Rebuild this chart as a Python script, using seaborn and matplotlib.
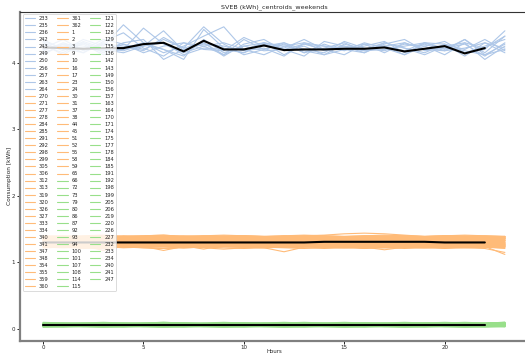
import matplotlib
matplotlib.use("Agg")
import matplotlib.pyplot as plt
import seaborn as sns
import numpy as np

sns.set_style("ticks")
plt.rcParams['font.family'] = ['DejaVu Sans']

hours = list(range(24))
centroid_hours = list(range(23))

title = "SVEB (kWh)_centroids_weekends"
x_label = "Hours"
y_label = "Consumption [kWh]"

# ---- cluster 0 (high consumption) ----
ids_c0 = [233, 235, 236, 242, 243, 249, 250, 256, 257, 263, 264]
profiles_c0 = [
    [4.20, 4.28, 4.15, 4.32, 4.45, 4.22, 4.10, 4.30, 4.25, 4.12, 4.35, 4.20, 4.28, 4.15, 4.22, 4.30, 4.18, 4.25, 4.12, 4.30, 4.20, 4.35, 4.15, 4.40],
    [4.30, 4.18, 4.35, 4.25, 4.57, 4.30, 4.20, 4.05, 4.50, 4.22, 4.15, 4.28, 4.20, 4.10, 4.32, 4.25, 4.20, 4.30, 4.22, 4.15, 4.28, 4.10, 4.30, 4.22],
    [4.15, 4.25, 4.22, 4.18, 4.20, 4.52, 4.28, 4.15, 4.25, 4.30, 4.20, 4.12, 4.25, 4.30, 4.18, 4.22, 4.28, 4.15, 4.30, 4.20, 4.25, 4.18, 4.12, 4.28],
    [4.28, 4.12, 4.30, 4.20, 4.15, 4.25, 4.48, 4.18, 4.30, 4.10, 4.28, 4.35, 4.18, 4.25, 4.12, 4.20, 4.25, 4.32, 4.15, 4.28, 4.18, 4.22, 4.30, 4.15],
    [4.22, 4.35, 4.18, 4.28, 4.25, 4.18, 4.38, 4.22, 4.54, 4.28, 4.12, 4.20, 4.30, 4.15, 4.28, 4.18, 4.30, 4.22, 4.12, 4.25, 4.32, 4.15, 4.25, 4.35],
    [4.35, 4.20, 4.28, 4.12, 4.22, 4.30, 4.15, 4.25, 4.40, 4.54, 4.20, 4.30, 4.12, 4.28, 4.20, 4.25, 4.15, 4.28, 4.35, 4.18, 4.22, 4.28, 4.10, 4.30],
    [4.18, 4.30, 4.20, 4.35, 4.28, 4.15, 4.25, 4.30, 4.20, 4.18, 4.38, 4.25, 4.30, 4.20, 4.15, 4.32, 4.22, 4.18, 4.28, 4.25, 4.12, 4.30, 4.22, 4.40],
    [4.25, 4.15, 4.32, 4.22, 4.18, 4.28, 4.20, 4.10, 4.35, 4.15, 4.25, 4.30, 4.22, 4.35, 4.20, 4.12, 4.28, 4.25, 4.18, 4.30, 4.28, 4.20, 4.35, 4.18],
    [4.12, 4.28, 4.25, 4.18, 4.30, 4.35, 4.05, 4.20, 4.28, 4.25, 4.18, 4.22, 4.10, 4.30, 4.25, 4.20, 4.15, 4.30, 4.22, 4.12, 4.25, 4.30, 4.05, 4.25],
    [4.32, 4.22, 4.15, 4.30, 4.20, 4.25, 4.30, 4.12, 4.22, 4.20, 4.15, 4.30, 4.25, 4.18, 4.12, 4.28, 4.20, 4.25, 4.30, 4.20, 4.18, 4.35, 4.12, 4.20],
    [4.20, 4.25, 4.30, 4.15, 4.28, 4.20, 4.35, 4.22, 4.30, 4.12, 4.25, 4.18, 4.20, 4.28, 4.25, 4.22, 4.18, 4.20, 4.25, 4.30, 4.22, 4.15, 4.20, 4.48],
]
centroid_c0 = [4.23, 4.22, 4.21, 4.22, 4.22, 4.28, 4.30, 4.17, 4.33, 4.20, 4.20, 4.26,
               4.19, 4.20, 4.20, 4.21, 4.21, 4.23, 4.17, 4.21, 4.25, 4.14, 4.22]

# ---- cluster 1 (medium consumption) ----
ids_c1 = [270, 271, 277, 278, 284, 285, 291, 292, 298, 299, 305, 306, 312, 313, 319, 320,
          326, 327, 333, 334, 340, 341, 347, 348, 354, 355, 359, 360, 361, 362, 1, 2, 3, 9,
          10, 16, 17, 23, 24, 30, 31, 37, 38, 44, 45, 51, 52, 55, 58, 59, 65]
profiles_c1 = [
    [1.38, 1.37, 1.38, 1.39, 1.38, 1.37, 1.38, 1.39, 1.38, 1.38, 1.37, 1.38, 1.39, 1.38, 1.37, 1.38, 1.38, 1.39, 1.38, 1.37, 1.38, 1.38, 1.37, 1.38],
    [1.25, 1.24, 1.26, 1.25, 1.23, 1.25, 1.26, 1.24, 1.25, 1.26, 1.25, 1.24, 1.23, 1.25, 1.26, 1.25, 1.24, 1.25, 1.26, 1.25, 1.24, 1.25, 1.26, 1.24],
    [1.33, 1.34, 1.33, 1.32, 1.34, 1.35, 1.33, 1.32, 1.33, 1.34, 1.33, 1.35, 1.34, 1.33, 1.32, 1.34, 1.33, 1.34, 1.35, 1.33, 1.32, 1.33, 1.34, 1.33],
    [1.28, 1.27, 1.29, 1.28, 1.26, 1.28, 1.29, 1.27, 1.28, 1.30, 1.28, 1.27, 1.29, 1.28, 1.27, 1.29, 1.28, 1.27, 1.28, 1.29, 1.28, 1.27, 1.28, 1.29],
    [1.39, 1.40, 1.39, 1.38, 1.39, 1.40, 1.41, 1.39, 1.38, 1.39, 1.40, 1.39, 1.38, 1.40, 1.41, 1.43, 1.44, 1.43, 1.41, 1.39, 1.40, 1.39, 1.38, 1.39],
    [1.22, 1.23, 1.21, 1.22, 1.24, 1.22, 1.21, 1.23, 1.22, 1.20, 1.22, 1.23, 1.22, 1.21, 1.23, 1.22, 1.21, 1.22, 1.23, 1.22, 1.21, 1.22, 1.23, 1.21],
    [1.36, 1.35, 1.36, 1.37, 1.35, 1.36, 1.35, 1.37, 1.36, 1.35, 1.36, 1.37, 1.36, 1.35, 1.36, 1.36, 1.37, 1.35, 1.36, 1.37, 1.36, 1.35, 1.36, 1.37],
    [1.30, 1.31, 1.29, 1.30, 1.31, 1.30, 1.29, 1.31, 1.30, 1.31, 1.30, 1.29, 1.30, 1.31, 1.30, 1.29, 1.30, 1.31, 1.30, 1.29, 1.30, 1.31, 1.30, 1.30],
    [1.26, 1.27, 1.25, 1.18, 1.26, 1.27, 1.26, 1.25, 1.27, 1.26, 1.25, 1.26, 1.27, 1.26, 1.25, 1.24, 1.26, 1.27, 1.26, 1.25, 1.26, 1.27, 1.25, 1.26],
    [1.37, 1.38, 1.37, 1.36, 1.38, 1.37, 1.38, 1.36, 1.37, 1.38, 1.37, 1.36, 1.38, 1.37, 1.38, 1.37, 1.36, 1.37, 1.38, 1.37, 1.36, 1.38, 1.37, 1.36],
    [1.24, 1.25, 1.24, 1.23, 1.25, 1.24, 1.18, 1.24, 1.25, 1.24, 1.23, 1.24, 1.25, 1.24, 1.23, 1.24, 1.25, 1.24, 1.23, 1.24, 1.25, 1.24, 1.23, 1.24],
    [1.34, 1.33, 1.35, 1.34, 1.33, 1.34, 1.35, 1.34, 1.33, 1.34, 1.35, 1.36, 1.34, 1.33, 1.34, 1.35, 1.34, 1.33, 1.34, 1.35, 1.34, 1.33, 1.34, 1.35],
    [1.29, 1.28, 1.29, 1.30, 1.28, 1.29, 1.28, 1.30, 1.29, 1.28, 1.29, 1.30, 1.29, 1.28, 1.29, 1.30, 1.29, 1.28, 1.29, 1.30, 1.29, 1.28, 1.29, 1.28],
    [1.39, 1.38, 1.39, 1.40, 1.39, 1.38, 1.39, 1.40, 1.39, 1.38, 1.40, 1.39, 1.38, 1.39, 1.40, 1.39, 1.38, 1.39, 1.40, 1.39, 1.38, 1.39, 1.40, 1.39],
    [1.23, 1.24, 1.23, 1.22, 1.24, 1.23, 1.24, 1.22, 1.23, 1.24, 1.23, 1.22, 1.16, 1.23, 1.24, 1.23, 1.22, 1.23, 1.24, 1.23, 1.22, 1.23, 1.24, 1.12],
    [1.35, 1.36, 1.35, 1.34, 1.36, 1.35, 1.34, 1.36, 1.35, 1.36, 1.35, 1.34, 1.35, 1.36, 1.35, 1.34, 1.36, 1.35, 1.34, 1.35, 1.36, 1.35, 1.34, 1.35],
    [1.27, 1.28, 1.27, 1.26, 1.28, 1.27, 1.28, 1.26, 1.27, 1.28, 1.27, 1.26, 1.27, 1.28, 1.27, 1.26, 1.21, 1.27, 1.28, 1.27, 1.26, 1.27, 1.28, 1.27],
    [1.32, 1.31, 1.32, 1.33, 1.31, 1.32, 1.33, 1.32, 1.31, 1.32, 1.33, 1.32, 1.31, 1.32, 1.33, 1.32, 1.31, 1.32, 1.33, 1.32, 1.31, 1.32, 1.33, 1.32],
    [1.38, 1.39, 1.38, 1.37, 1.39, 1.38, 1.37, 1.38, 1.39, 1.38, 1.37, 1.38, 1.39, 1.38, 1.37, 1.38, 1.39, 1.38, 1.37, 1.38, 1.39, 1.38, 1.37, 1.38],
    [1.25, 1.26, 1.25, 1.24, 1.26, 1.25, 1.24, 1.25, 1.26, 1.25, 1.24, 1.25, 1.26, 1.25, 1.24, 1.25, 1.26, 1.25, 1.24, 1.25, 1.26, 1.25, 1.24, 1.25],
    [1.36, 1.37, 1.36, 1.35, 1.37, 1.36, 1.35, 1.36, 1.37, 1.36, 1.35, 1.36, 1.37, 1.36, 1.35, 1.36, 1.37, 1.36, 1.35, 1.36, 1.37, 1.36, 1.35, 1.36],
    [1.28, 1.29, 1.28, 1.27, 1.29, 1.28, 1.27, 1.28, 1.29, 1.28, 1.27, 1.28, 1.29, 1.28, 1.27, 1.28, 1.29, 1.28, 1.27, 1.28, 1.29, 1.28, 1.27, 1.28],
    [1.33, 1.32, 1.34, 1.33, 1.32, 1.33, 1.34, 1.33, 1.35, 1.33, 1.32, 1.33, 1.34, 1.33, 1.32, 1.33, 1.34, 1.33, 1.32, 1.33, 1.34, 1.33, 1.32, 1.33],
    [1.24, 1.23, 1.24, 1.25, 1.23, 1.24, 1.25, 1.23, 1.24, 1.25, 1.24, 1.23, 1.24, 1.25, 1.24, 1.23, 1.24, 1.25, 1.24, 1.23, 1.24, 1.25, 1.24, 1.23],
    [1.37, 1.36, 1.37, 1.38, 1.36, 1.37, 1.38, 1.36, 1.37, 1.38, 1.37, 1.36, 1.37, 1.38, 1.37, 1.36, 1.37, 1.38, 1.37, 1.36, 1.37, 1.38, 1.37, 1.36],
    [1.30, 1.29, 1.30, 1.31, 1.29, 1.30, 1.31, 1.29, 1.30, 1.31, 1.30, 1.29, 1.30, 1.31, 1.30, 1.29, 1.30, 1.31, 1.30, 1.29, 1.30, 1.31, 1.30, 1.29],
    [1.26, 1.25, 1.26, 1.27, 1.25, 1.26, 1.27, 1.25, 1.20, 1.26, 1.27, 1.25, 1.26, 1.27, 1.26, 1.25, 1.26, 1.27, 1.26, 1.25, 1.26, 1.27, 1.26, 1.25],
    [1.39, 1.38, 1.39, 1.38, 1.40, 1.39, 1.38, 1.39, 1.40, 1.39, 1.38, 1.39, 1.40, 1.39, 1.38, 1.39, 1.40, 1.39, 1.38, 1.39, 1.40, 1.39, 1.38, 1.39],
    [1.31, 1.32, 1.31, 1.30, 1.32, 1.31, 1.30, 1.31, 1.32, 1.31, 1.30, 1.31, 1.32, 1.31, 1.30, 1.31, 1.32, 1.31, 1.30, 1.31, 1.32, 1.31, 1.30, 1.31],
    [1.23, 1.22, 1.23, 1.24, 1.22, 1.23, 1.24, 1.22, 1.23, 1.24, 1.23, 1.22, 1.23, 1.24, 1.23, 1.22, 1.23, 1.19, 1.23, 1.22, 1.23, 1.24, 1.23, 1.22],
    [1.35, 1.34, 1.35, 1.36, 1.34, 1.35, 1.36, 1.34, 1.35, 1.36, 1.35, 1.34, 1.35, 1.36, 1.35, 1.34, 1.35, 1.36, 1.35, 1.34, 1.35, 1.36, 1.35, 1.34],
    [1.27, 1.26, 1.27, 1.28, 1.26, 1.27, 1.28, 1.26, 1.27, 1.28, 1.27, 1.26, 1.27, 1.28, 1.27, 1.26, 1.27, 1.28, 1.27, 1.26, 1.27, 1.28, 1.27, 1.26],
    [1.38, 1.37, 1.38, 1.39, 1.37, 1.38, 1.39, 1.37, 1.38, 1.39, 1.38, 1.37, 1.38, 1.39, 1.38, 1.37, 1.38, 1.39, 1.38, 1.37, 1.38, 1.39, 1.38, 1.37],
    [1.32, 1.33, 1.32, 1.31, 1.33, 1.32, 1.31, 1.32, 1.33, 1.32, 1.31, 1.32, 1.33, 1.32, 1.31, 1.32, 1.33, 1.32, 1.31, 1.32, 1.33, 1.32, 1.31, 1.32],
    [1.25, 1.26, 1.25, 1.24, 1.26, 1.25, 1.24, 1.25, 1.26, 1.25, 1.24, 1.25, 1.26, 1.25, 1.24, 1.25, 1.26, 1.25, 1.24, 1.25, 1.26, 1.25, 1.24, 1.25],
    [1.36, 1.37, 1.36, 1.35, 1.37, 1.36, 1.35, 1.36, 1.37, 1.36, 1.35, 1.36, 1.37, 1.36, 1.35, 1.36, 1.37, 1.36, 1.35, 1.36, 1.37, 1.36, 1.35, 1.36],
    [1.29, 1.30, 1.29, 1.28, 1.30, 1.29, 1.28, 1.29, 1.30, 1.29, 1.28, 1.29, 1.30, 1.29, 1.28, 1.29, 1.30, 1.29, 1.28, 1.29, 1.30, 1.29, 1.28, 1.29],
    [1.40, 1.39, 1.40, 1.41, 1.39, 1.40, 1.41, 1.39, 1.40, 1.41, 1.40, 1.39, 1.40, 1.41, 1.40, 1.39, 1.40, 1.41, 1.40, 1.39, 1.40, 1.41, 1.40, 1.39],
    [1.24, 1.25, 1.24, 1.23, 1.25, 1.24, 1.23, 1.24, 1.25, 1.24, 1.23, 1.24, 1.25, 1.24, 1.23, 1.24, 1.25, 1.24, 1.23, 1.24, 1.25, 1.24, 1.23, 1.24],
    [1.34, 1.33, 1.34, 1.35, 1.33, 1.34, 1.35, 1.33, 1.34, 1.35, 1.34, 1.33, 1.34, 1.35, 1.34, 1.33, 1.34, 1.35, 1.34, 1.33, 1.34, 1.35, 1.34, 1.33],
    [1.27, 1.28, 1.27, 1.26, 1.28, 1.27, 1.26, 1.27, 1.28, 1.27, 1.26, 1.27, 1.28, 1.27, 1.26, 1.27, 1.28, 1.27, 1.26, 1.27, 1.28, 1.27, 1.26, 1.27],
    [1.37, 1.38, 1.37, 1.36, 1.38, 1.37, 1.36, 1.37, 1.38, 1.37, 1.36, 1.37, 1.38, 1.37, 1.36, 1.37, 1.38, 1.37, 1.36, 1.37, 1.38, 1.37, 1.36, 1.37],
    [1.22, 1.23, 1.22, 1.21, 1.23, 1.22, 1.21, 1.22, 1.23, 1.22, 1.21, 1.22, 1.23, 1.22, 1.21, 1.22, 1.23, 1.22, 1.21, 1.22, 1.23, 1.22, 1.21, 1.15],
    [1.31, 1.30, 1.31, 1.32, 1.30, 1.31, 1.32, 1.30, 1.31, 1.32, 1.31, 1.30, 1.31, 1.32, 1.31, 1.30, 1.31, 1.32, 1.31, 1.30, 1.31, 1.32, 1.31, 1.30],
    [1.39, 1.38, 1.39, 1.40, 1.38, 1.39, 1.40, 1.38, 1.39, 1.40, 1.39, 1.38, 1.39, 1.40, 1.39, 1.38, 1.39, 1.40, 1.39, 1.38, 1.39, 1.40, 1.39, 1.38],
    [1.26, 1.27, 1.26, 1.25, 1.27, 1.26, 1.25, 1.26, 1.27, 1.26, 1.25, 1.26, 1.27, 1.26, 1.25, 1.26, 1.27, 1.26, 1.25, 1.26, 1.27, 1.26, 1.25, 1.26],
    [1.35, 1.36, 1.35, 1.34, 1.36, 1.35, 1.34, 1.35, 1.36, 1.35, 1.34, 1.35, 1.36, 1.35, 1.34, 1.35, 1.36, 1.35, 1.34, 1.35, 1.36, 1.35, 1.34, 1.35],
    [1.28, 1.27, 1.28, 1.29, 1.27, 1.28, 1.29, 1.27, 1.28, 1.29, 1.28, 1.27, 1.28, 1.29, 1.28, 1.27, 1.28, 1.29, 1.28, 1.27, 1.28, 1.29, 1.28, 1.27],
    [1.33, 1.34, 1.33, 1.32, 1.34, 1.33, 1.32, 1.33, 1.34, 1.33, 1.32, 1.33, 1.34, 1.33, 1.32, 1.33, 1.34, 1.33, 1.32, 1.33, 1.34, 1.33, 1.32, 1.33],
    [1.24, 1.23, 1.24, 1.25, 1.23, 1.24, 1.25, 1.23, 1.24, 1.25, 1.24, 1.23, 1.24, 1.25, 1.24, 1.23, 1.24, 1.25, 1.24, 1.23, 1.24, 1.25, 1.24, 1.23],
    [1.38, 1.39, 1.38, 1.37, 1.39, 1.38, 1.37, 1.38, 1.39, 1.38, 1.37, 1.38, 1.39, 1.38, 1.37, 1.38, 1.39, 1.38, 1.37, 1.38, 1.39, 1.38, 1.37, 1.38],
]
centroid_c1 = [1.30, 1.30, 1.30, 1.30, 1.30, 1.30, 1.30, 1.30, 1.30, 1.30, 1.30, 1.30,
               1.30, 1.30, 1.31, 1.31, 1.31, 1.31, 1.31, 1.31, 1.30, 1.30, 1.30]

# ---- cluster 2 (near-zero consumption) ----
ids_c2 = [66, 72, 73, 79, 80, 86, 87, 92, 93, 94, 100, 101, 107, 108, 114, 115,
          121, 122, 128, 129, 135, 136, 142, 143, 149, 150, 156, 157, 163, 164, 170, 171,
          174, 175, 177, 178, 184, 185, 191, 192, 198, 199, 205, 206, 219, 220, 226, 227,
          232, 233, 234, 240, 241, 247]
profiles_c2 = [
    [0.06, 0.05, 0.06, 0.07, 0.06, 0.05, 0.06, 0.07, 0.06, 0.05, 0.06, 0.07, 0.06, 0.05, 0.06, 0.07, 0.06, 0.05, 0.06, 0.07, 0.06, 0.05, 0.06, 0.07],
    [0.04, 0.04, 0.05, 0.04, 0.04, 0.05, 0.04, 0.04, 0.05, 0.04, 0.04, 0.05, 0.04, 0.04, 0.05, 0.04, 0.04, 0.05, 0.04, 0.04, 0.05, 0.04, 0.04, 0.05],
    [0.08, 0.07, 0.08, 0.08, 0.07, 0.08, 0.09, 0.08, 0.07, 0.08, 0.08, 0.09, 0.08, 0.07, 0.08, 0.08, 0.07, 0.08, 0.09, 0.08, 0.07, 0.08, 0.08, 0.09],
    [0.05, 0.06, 0.05, 0.05, 0.06, 0.05, 0.05, 0.06, 0.05, 0.05, 0.06, 0.05, 0.05, 0.06, 0.05, 0.05, 0.06, 0.05, 0.05, 0.06, 0.05, 0.05, 0.06, 0.05],
    [0.07, 0.07, 0.06, 0.07, 0.07, 0.06, 0.07, 0.07, 0.08, 0.07, 0.07, 0.06, 0.07, 0.07, 0.06, 0.07, 0.07, 0.08, 0.07, 0.07, 0.06, 0.07, 0.07, 0.08],
    [0.03, 0.04, 0.03, 0.03, 0.04, 0.03, 0.03, 0.04, 0.03, 0.03, 0.04, 0.03, 0.03, 0.04, 0.03, 0.03, 0.04, 0.03, 0.03, 0.04, 0.03, 0.03, 0.04, 0.03],
    [0.06, 0.06, 0.07, 0.06, 0.06, 0.07, 0.06, 0.06, 0.07, 0.06, 0.06, 0.07, 0.06, 0.06, 0.07, 0.06, 0.06, 0.07, 0.06, 0.06, 0.07, 0.06, 0.06, 0.07],
    [0.09, 0.08, 0.09, 0.09, 0.08, 0.09, 0.10, 0.09, 0.08, 0.09, 0.09, 0.08, 0.09, 0.10, 0.09, 0.08, 0.09, 0.09, 0.08, 0.09, 0.10, 0.09, 0.08, 0.10],
    [0.05, 0.05, 0.04, 0.05, 0.05, 0.04, 0.05, 0.05, 0.04, 0.05, 0.05, 0.04, 0.05, 0.05, 0.04, 0.05, 0.05, 0.04, 0.05, 0.05, 0.04, 0.05, 0.05, 0.04],
    [0.07, 0.06, 0.07, 0.07, 0.06, 0.07, 0.07, 0.06, 0.07, 0.07, 0.06, 0.07, 0.07, 0.06, 0.07, 0.07, 0.06, 0.07, 0.07, 0.06, 0.07, 0.07, 0.06, 0.07],
    [0.06, 0.07, 0.06, 0.05, 0.06, 0.07, 0.06, 0.05, 0.06, 0.07, 0.06, 0.05, 0.06, 0.07, 0.06, 0.05, 0.06, 0.07, 0.06, 0.05, 0.06, 0.07, 0.06, 0.05],
    [0.04, 0.05, 0.05, 0.04, 0.05, 0.05, 0.04, 0.05, 0.05, 0.04, 0.05, 0.05, 0.04, 0.05, 0.05, 0.04, 0.05, 0.05, 0.04, 0.05, 0.05, 0.04, 0.05, 0.06],
    [0.08, 0.08, 0.07, 0.08, 0.08, 0.07, 0.08, 0.08, 0.07, 0.08, 0.08, 0.07, 0.08, 0.08, 0.07, 0.08, 0.08, 0.07, 0.08, 0.08, 0.07, 0.08, 0.08, 0.09],
    [0.05, 0.06, 0.06, 0.05, 0.06, 0.06, 0.05, 0.06, 0.06, 0.05, 0.06, 0.06, 0.05, 0.06, 0.06, 0.05, 0.06, 0.06, 0.05, 0.06, 0.06, 0.05, 0.06, 0.06],
    [0.07, 0.08, 0.07, 0.07, 0.08, 0.07, 0.07, 0.08, 0.07, 0.07, 0.08, 0.07, 0.07, 0.08, 0.07, 0.07, 0.08, 0.07, 0.07, 0.08, 0.07, 0.07, 0.08, 0.07],
    [0.06, 0.06, 0.05, 0.06, 0.06, 0.05, 0.06, 0.06, 0.05, 0.06, 0.06, 0.05, 0.06, 0.06, 0.05, 0.06, 0.06, 0.05, 0.06, 0.06, 0.05, 0.06, 0.06, 0.05],
    [0.04, 0.04, 0.04, 0.05, 0.04, 0.04, 0.05, 0.04, 0.04, 0.05, 0.04, 0.04, 0.05, 0.04, 0.04, 0.05, 0.04, 0.04, 0.05, 0.04, 0.04, 0.05, 0.04, 0.04],
    [0.07, 0.06, 0.06, 0.07, 0.06, 0.06, 0.07, 0.06, 0.06, 0.07, 0.06, 0.06, 0.07, 0.06, 0.06, 0.07, 0.06, 0.06, 0.07, 0.06, 0.06, 0.07, 0.06, 0.07],
    [0.09, 0.09, 0.08, 0.09, 0.09, 0.08, 0.09, 0.09, 0.08, 0.09, 0.09, 0.08, 0.09, 0.09, 0.08, 0.09, 0.09, 0.08, 0.09, 0.09, 0.08, 0.09, 0.09, 0.10],
    [0.05, 0.05, 0.06, 0.05, 0.05, 0.06, 0.05, 0.05, 0.06, 0.05, 0.05, 0.06, 0.05, 0.05, 0.06, 0.05, 0.05, 0.06, 0.05, 0.05, 0.06, 0.05, 0.05, 0.06],
    [0.06, 0.07, 0.07, 0.06, 0.07, 0.07, 0.06, 0.07, 0.07, 0.06, 0.07, 0.07, 0.06, 0.07, 0.07, 0.06, 0.07, 0.07, 0.06, 0.07, 0.07, 0.06, 0.07, 0.07],
    [0.03, 0.03, 0.04, 0.03, 0.03, 0.04, 0.03, 0.03, 0.04, 0.03, 0.03, 0.04, 0.03, 0.03, 0.04, 0.03, 0.03, 0.04, 0.03, 0.03, 0.04, 0.03, 0.03, 0.04],
    [0.08, 0.07, 0.07, 0.08, 0.07, 0.07, 0.08, 0.07, 0.07, 0.08, 0.07, 0.07, 0.08, 0.07, 0.07, 0.08, 0.07, 0.07, 0.08, 0.07, 0.07, 0.08, 0.07, 0.08],
    [0.06, 0.05, 0.05, 0.06, 0.05, 0.05, 0.06, 0.05, 0.05, 0.06, 0.05, 0.05, 0.06, 0.05, 0.05, 0.06, 0.05, 0.05, 0.06, 0.05, 0.05, 0.06, 0.05, 0.05],
    [0.07, 0.07, 0.08, 0.07, 0.07, 0.08, 0.07, 0.07, 0.08, 0.07, 0.07, 0.08, 0.07, 0.07, 0.08, 0.07, 0.07, 0.08, 0.07, 0.07, 0.08, 0.07, 0.07, 0.08],
    [0.05, 0.04, 0.05, 0.05, 0.04, 0.05, 0.05, 0.04, 0.05, 0.05, 0.04, 0.05, 0.05, 0.04, 0.05, 0.05, 0.04, 0.05, 0.05, 0.04, 0.05, 0.05, 0.04, 0.05],
    [0.06, 0.06, 0.06, 0.07, 0.06, 0.06, 0.07, 0.06, 0.06, 0.07, 0.06, 0.06, 0.07, 0.06, 0.06, 0.07, 0.06, 0.06, 0.07, 0.06, 0.06, 0.07, 0.06, 0.06],
    [0.08, 0.09, 0.08, 0.08, 0.09, 0.08, 0.08, 0.09, 0.08, 0.08, 0.09, 0.08, 0.08, 0.09, 0.08, 0.08, 0.09, 0.08, 0.08, 0.09, 0.08, 0.08, 0.09, 0.09],
    [0.04, 0.05, 0.04, 0.04, 0.05, 0.04, 0.04, 0.05, 0.04, 0.04, 0.05, 0.04, 0.04, 0.05, 0.04, 0.04, 0.05, 0.04, 0.04, 0.05, 0.04, 0.04, 0.05, 0.04],
    [0.07, 0.06, 0.07, 0.06, 0.07, 0.06, 0.07, 0.06, 0.07, 0.06, 0.07, 0.06, 0.07, 0.06, 0.07, 0.06, 0.07, 0.06, 0.07, 0.06, 0.07, 0.06, 0.07, 0.06],
    [0.05, 0.06, 0.05, 0.06, 0.05, 0.06, 0.05, 0.06, 0.05, 0.06, 0.05, 0.06, 0.05, 0.06, 0.05, 0.06, 0.05, 0.06, 0.05, 0.06, 0.05, 0.06, 0.05, 0.06],
    [0.06, 0.06, 0.06, 0.06, 0.07, 0.06, 0.06, 0.06, 0.07, 0.06, 0.06, 0.06, 0.07, 0.06, 0.06, 0.06, 0.07, 0.06, 0.06, 0.06, 0.07, 0.06, 0.06, 0.07],
    [0.09, 0.08, 0.08, 0.09, 0.08, 0.08, 0.09, 0.08, 0.08, 0.09, 0.08, 0.08, 0.09, 0.08, 0.08, 0.09, 0.08, 0.08, 0.09, 0.08, 0.08, 0.09, 0.08, 0.09],
    [0.03, 0.04, 0.04, 0.03, 0.04, 0.04, 0.03, 0.04, 0.04, 0.03, 0.04, 0.04, 0.03, 0.04, 0.04, 0.03, 0.04, 0.04, 0.03, 0.04, 0.04, 0.03, 0.04, 0.04],
    [0.07, 0.07, 0.07, 0.06, 0.07, 0.07, 0.07, 0.06, 0.07, 0.07, 0.07, 0.06, 0.07, 0.07, 0.07, 0.06, 0.07, 0.07, 0.07, 0.06, 0.07, 0.07, 0.07, 0.07],
    [0.05, 0.05, 0.05, 0.06, 0.05, 0.05, 0.05, 0.06, 0.05, 0.05, 0.05, 0.06, 0.05, 0.05, 0.05, 0.06, 0.05, 0.05, 0.05, 0.06, 0.05, 0.05, 0.05, 0.06],
    [0.08, 0.08, 0.08, 0.07, 0.08, 0.08, 0.08, 0.07, 0.08, 0.08, 0.08, 0.07, 0.08, 0.08, 0.08, 0.07, 0.08, 0.08, 0.08, 0.07, 0.08, 0.08, 0.08, 0.08],
    [0.06, 0.05, 0.06, 0.06, 0.06, 0.05, 0.06, 0.06, 0.06, 0.05, 0.06, 0.06, 0.06, 0.05, 0.06, 0.06, 0.06, 0.05, 0.06, 0.06, 0.06, 0.05, 0.06, 0.06],
    [0.04, 0.04, 0.05, 0.05, 0.04, 0.04, 0.05, 0.05, 0.04, 0.04, 0.05, 0.05, 0.04, 0.04, 0.05, 0.05, 0.04, 0.04, 0.05, 0.05, 0.04, 0.04, 0.05, 0.05],
    [0.07, 0.07, 0.06, 0.06, 0.07, 0.07, 0.06, 0.06, 0.07, 0.07, 0.06, 0.06, 0.07, 0.07, 0.06, 0.06, 0.07, 0.07, 0.06, 0.06, 0.07, 0.07, 0.06, 0.07],
    [0.10, 0.09, 0.09, 0.10, 0.09, 0.09, 0.10, 0.09, 0.09, 0.10, 0.09, 0.09, 0.10, 0.09, 0.09, 0.10, 0.09, 0.09, 0.10, 0.09, 0.09, 0.10, 0.09, 0.10],
    [0.05, 0.05, 0.06, 0.06, 0.05, 0.05, 0.06, 0.06, 0.05, 0.05, 0.06, 0.06, 0.05, 0.05, 0.06, 0.06, 0.05, 0.05, 0.06, 0.06, 0.05, 0.05, 0.06, 0.06],
    [0.06, 0.07, 0.06, 0.06, 0.06, 0.07, 0.06, 0.06, 0.06, 0.07, 0.06, 0.06, 0.06, 0.07, 0.06, 0.06, 0.06, 0.07, 0.06, 0.06, 0.06, 0.07, 0.06, 0.07],
    [0.04, 0.03, 0.04, 0.04, 0.03, 0.04, 0.04, 0.03, 0.04, 0.04, 0.03, 0.04, 0.04, 0.03, 0.04, 0.04, 0.03, 0.04, 0.04, 0.03, 0.04, 0.04, 0.03, 0.04],
    [0.08, 0.08, 0.09, 0.08, 0.08, 0.09, 0.08, 0.08, 0.09, 0.08, 0.08, 0.09, 0.08, 0.08, 0.09, 0.08, 0.08, 0.09, 0.08, 0.08, 0.09, 0.08, 0.08, 0.09],
    [0.06, 0.06, 0.05, 0.05, 0.06, 0.06, 0.05, 0.05, 0.06, 0.06, 0.05, 0.05, 0.06, 0.06, 0.05, 0.05, 0.06, 0.06, 0.05, 0.05, 0.06, 0.06, 0.05, 0.06],
    [0.07, 0.06, 0.06, 0.07, 0.07, 0.06, 0.06, 0.07, 0.07, 0.06, 0.06, 0.07, 0.07, 0.06, 0.06, 0.07, 0.07, 0.06, 0.06, 0.07, 0.07, 0.06, 0.06, 0.08],
    [0.05, 0.05, 0.05, 0.04, 0.05, 0.05, 0.05, 0.04, 0.05, 0.05, 0.05, 0.04, 0.05, 0.05, 0.05, 0.04, 0.05, 0.05, 0.05, 0.04, 0.05, 0.05, 0.05, 0.05],
    [0.07, 0.08, 0.08, 0.07, 0.08, 0.08, 0.07, 0.08, 0.08, 0.07, 0.08, 0.08, 0.07, 0.08, 0.08, 0.07, 0.08, 0.08, 0.07, 0.08, 0.08, 0.07, 0.08, 0.09],
    [0.06, 0.06, 0.06, 0.05, 0.06, 0.06, 0.06, 0.05, 0.06, 0.06, 0.06, 0.05, 0.06, 0.06, 0.06, 0.05, 0.06, 0.06, 0.06, 0.05, 0.06, 0.06, 0.06, 0.06],
    [0.04, 0.05, 0.04, 0.05, 0.04, 0.05, 0.04, 0.05, 0.04, 0.05, 0.04, 0.05, 0.04, 0.05, 0.04, 0.05, 0.04, 0.05, 0.04, 0.05, 0.04, 0.05, 0.04, 0.05],
    [0.07, 0.07, 0.07, 0.08, 0.07, 0.07, 0.07, 0.08, 0.07, 0.07, 0.07, 0.08, 0.07, 0.07, 0.07, 0.08, 0.07, 0.07, 0.07, 0.08, 0.07, 0.07, 0.07, 0.08],
    [0.05, 0.06, 0.06, 0.06, 0.05, 0.06, 0.06, 0.06, 0.05, 0.06, 0.06, 0.06, 0.05, 0.06, 0.06, 0.06, 0.05, 0.06, 0.06, 0.06, 0.05, 0.06, 0.06, 0.07],
    [0.08, 0.07, 0.08, 0.07, 0.08, 0.07, 0.08, 0.07, 0.08, 0.07, 0.08, 0.07, 0.08, 0.07, 0.08, 0.07, 0.08, 0.07, 0.08, 0.07, 0.08, 0.07, 0.08, 0.09],
]
centroid_c2 = [0.06, 0.06, 0.06, 0.06, 0.06, 0.06, 0.06, 0.06, 0.06, 0.06, 0.06, 0.06,
               0.06, 0.06, 0.06, 0.06, 0.06, 0.06, 0.06, 0.06, 0.06, 0.06, 0.06]

cluster_colors = ["#aec7e8", "#ffbb78", "#98df8a"]

fig = plt.figure(figsize=(5.25, 3.54), dpi=100)
ax = fig.add_axes([20 / 525, 13.5 / 354, 508 / 525, 329 / 354])

groups = [(ids_c0, profiles_c0), (ids_c1, profiles_c1), (ids_c2, profiles_c2)]
for (ids, profiles), color in zip(groups, cluster_colors):
    for meter_id, values in zip(ids, profiles):
        sns.lineplot(x=hours, y=values, color=color, linewidth=0.8,
                     label=str(meter_id), ax=ax, estimator=None)

for centroid in (centroid_c0, centroid_c1, centroid_c2):
    sns.lineplot(x=centroid_hours, y=centroid, color="black", linewidth=1.5,
                 ax=ax, estimator=None, legend=False, zorder=5)

ax.set_xlim(-1.15, 24.15)
ax.set_ylim(-0.173, 4.77)
ax.set_xticks([0, 5, 10, 15, 20])
ax.set_yticks([0, 1, 2, 3, 4])

ax.set_title(title, fontsize=4.6, pad=2.5)
ax.set_xlabel(x_label, fontsize=3.9)
ax.set_ylabel(y_label, fontsize=4.2)
ax.xaxis.set_label_coords(0.5, -0.032)
ax.xaxis.label.set_va("center")
ax.yaxis.set_label_coords(-0.0197, 0.5)
ax.yaxis.label.set_va("center")
ax.tick_params(axis="both", labelsize=4.0, length=2.5, width=0.7, pad=1.0, color="#222222")

for side in ("left", "bottom"):
    ax.spines[side].set_color("#808080")
    ax.spines[side].set_linewidth(1.6)
ax.spines["top"].set_color("#333333")
ax.spines["top"].set_linewidth(0.8)
ax.spines["right"].set_color("#333333")
ax.spines["right"].set_linewidth(0.8)

leg = ax.legend(loc="upper left", ncol=3, fontsize=3.7, frameon=True,
                handlelength=2.0, columnspacing=1.6, labelspacing=0.4,
                borderaxespad=0.5)
leg.get_frame().set_edgecolor("#cccccc")
leg.get_frame().set_linewidth(0.6)

fig.savefig("out.png", dpi=100)
